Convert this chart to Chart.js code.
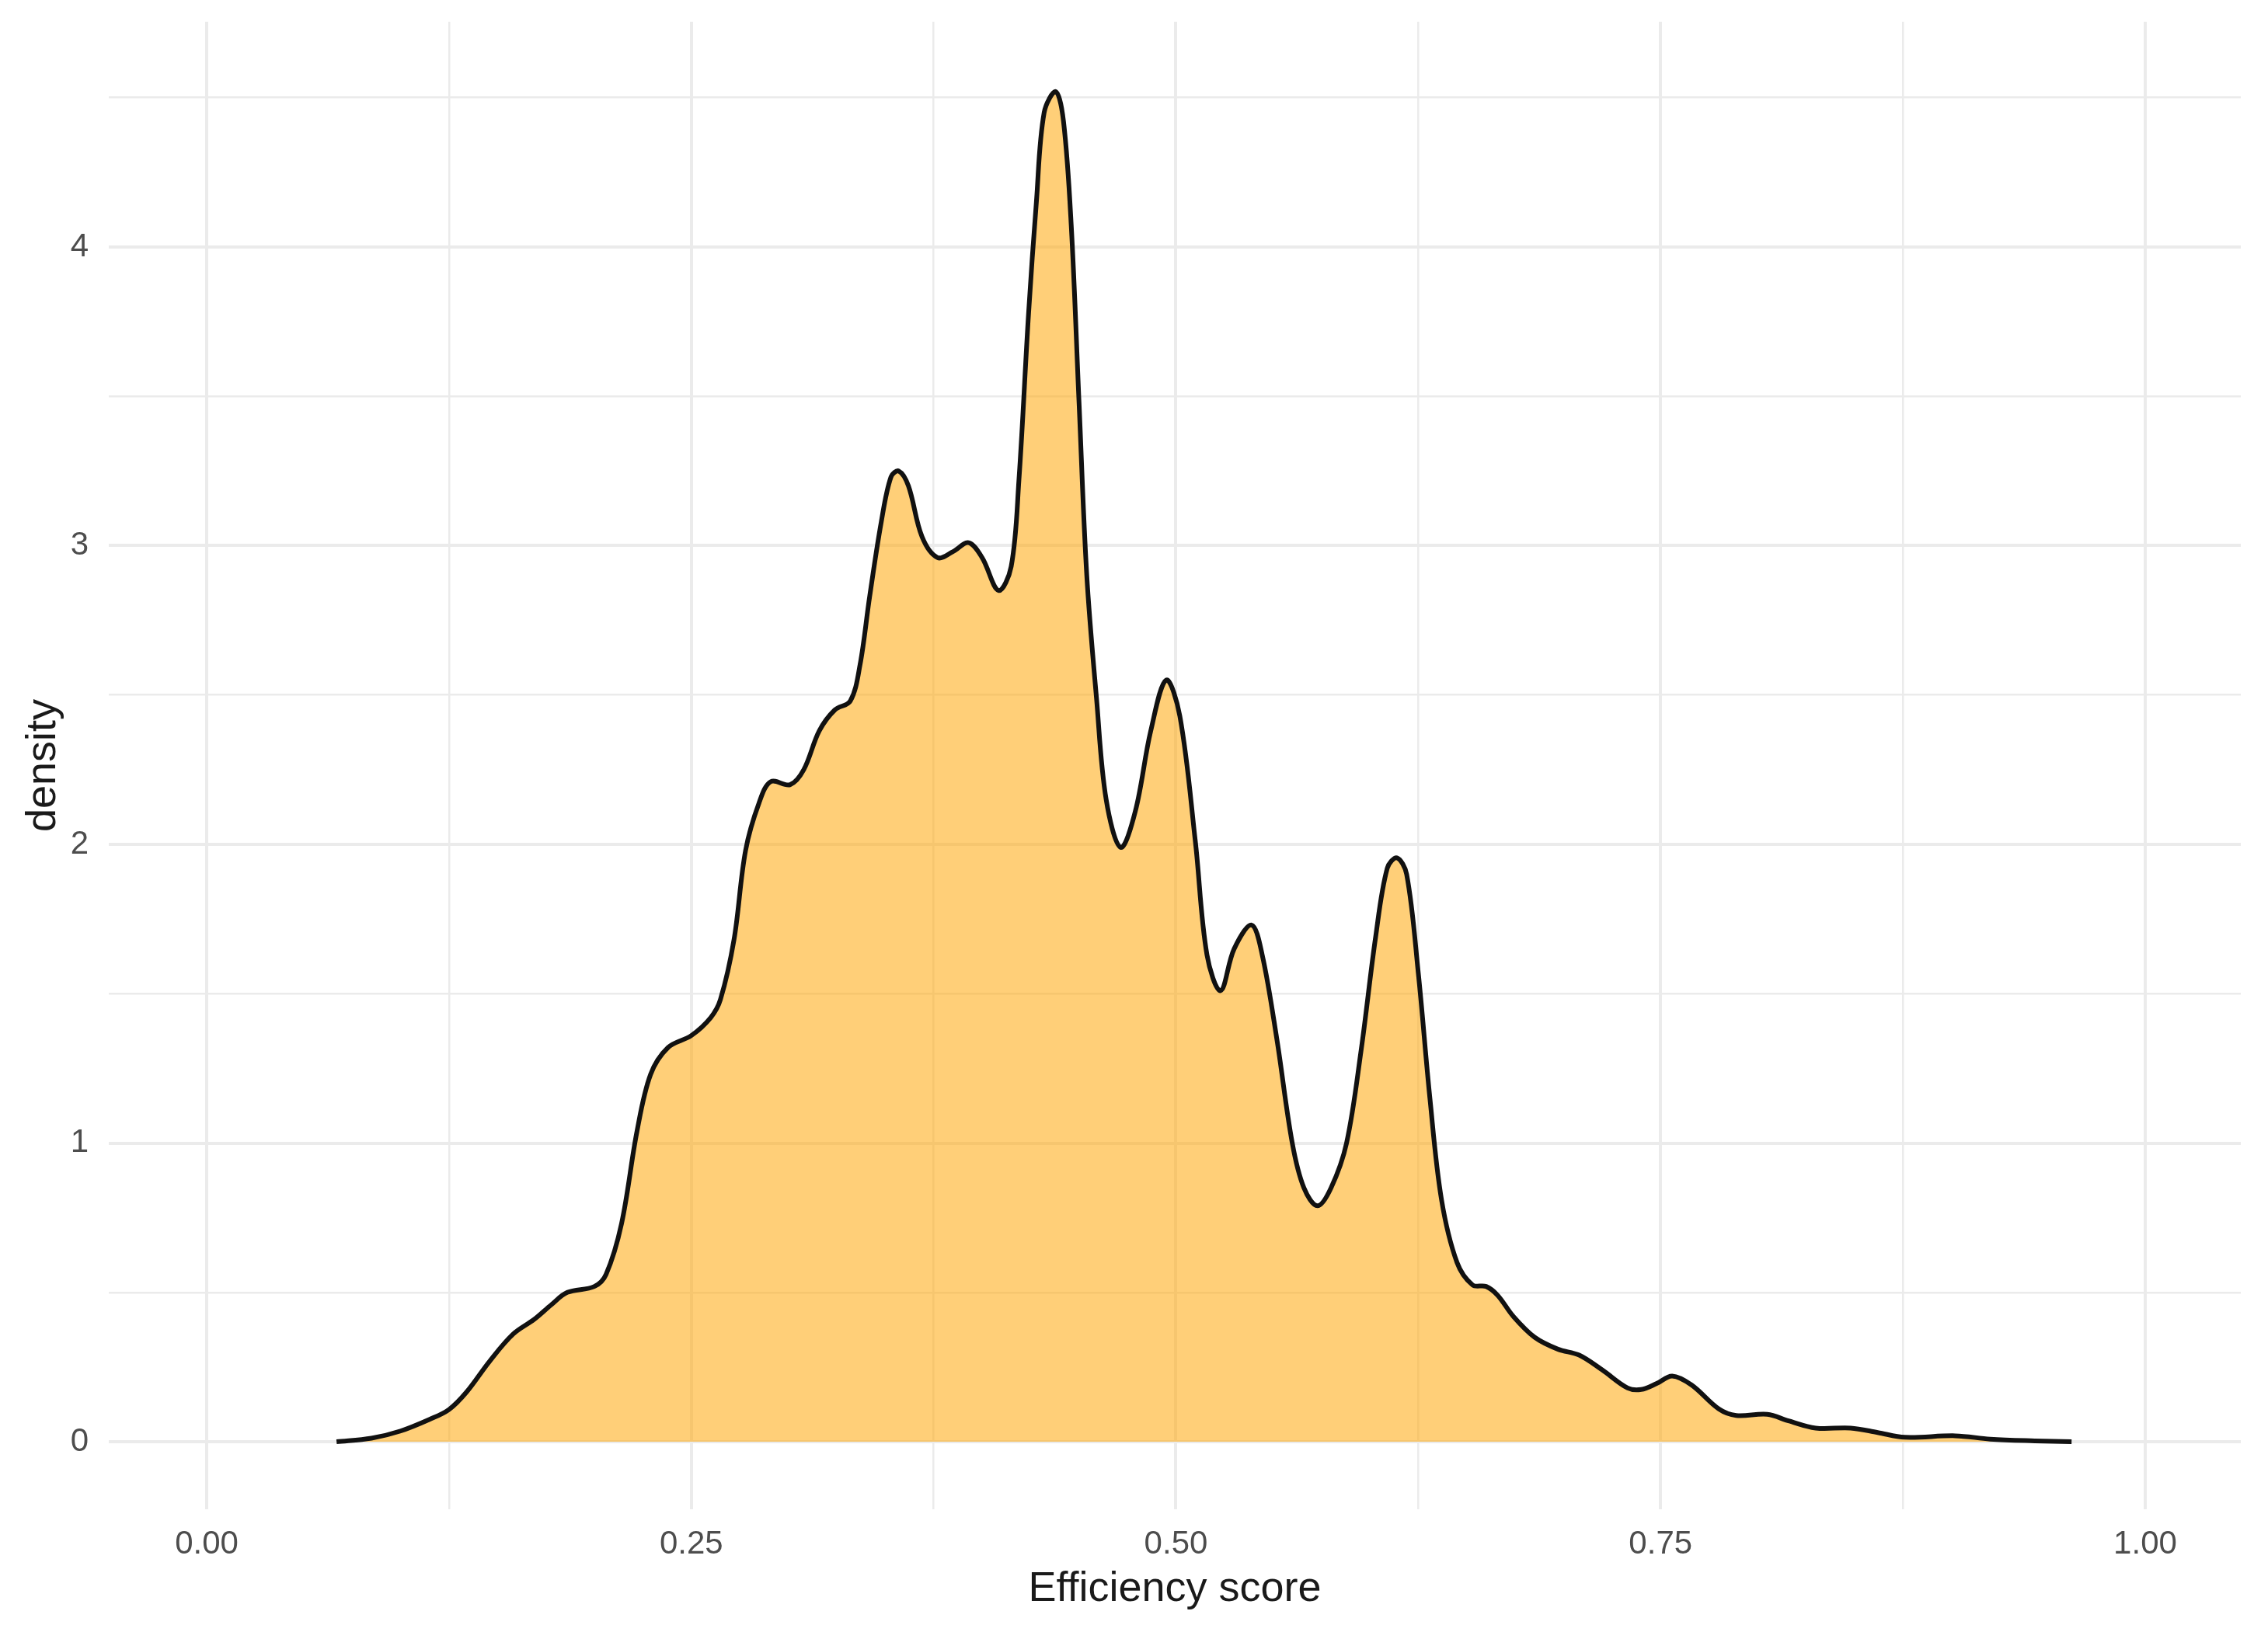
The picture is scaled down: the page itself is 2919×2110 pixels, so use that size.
<!DOCTYPE html>
<html>
<head>
<meta charset="utf-8">
<title>Efficiency score density</title>
<script src="https://cdn.jsdelivr.net/npm/chart.js@4"></script>
<style>
  html, body { margin: 0; padding: 0; background: #ffffff; }
  #wrap { width: 2919px; height: 2110px; position: relative; }
</style>
</head>
<body>
<div id="wrap"><canvas id="densityChart"></canvas></div>
<script>
// Efficiency score (x) and estimated kernel density (y)
const effScore = [
  0.067, 0.085, 0.100, 0.115, 0.125, 0.134, 0.146, 0.158, 0.169, 0.178,
  0.186, 0.200, 0.206, 0.214, 0.222, 0.229, 0.238, 0.250, 0.260, 0.265,
  0.272, 0.278, 0.285, 0.291, 0.301, 0.308, 0.316, 0.324, 0.332, 0.337,
  0.342, 0.348, 0.353, 0.357, 0.362, 0.369, 0.377, 0.385, 0.393, 0.400,
  0.4085, 0.415, 0.419, 0.424, 0.428, 0.432, 0.438, 0.442, 0.446, 0.450,
  0.454, 0.459, 0.464, 0.4715, 0.479, 0.487, 0.495, 0.502, 0.510, 0.516,
  0.523, 0.530, 0.539, 0.5445, 0.552, 0.560, 0.566, 0.573, 0.580, 0.588,
  0.5955, 0.603, 0.609, 0.614, 0.619, 0.625, 0.631, 0.637, 0.645, 0.653,
  0.660, 0.666, 0.674, 0.685, 0.697, 0.708, 0.720, 0.733, 0.740, 0.748,
  0.756, 0.766, 0.780, 0.789, 0.805, 0.816, 0.830, 0.848, 0.862, 0.876,
  0.902, 0.920, 0.943, 0.962
];
const density = [
  0.000, 0.012, 0.036, 0.075, 0.108, 0.166, 0.270, 0.360, 0.410, 0.460,
  0.500, 0.520, 0.560, 0.730, 1.040, 1.230, 1.320, 1.360, 1.420, 1.480,
  1.680, 1.980, 2.140, 2.210, 2.200, 2.250, 2.380, 2.450, 2.480, 2.600,
  2.830, 3.080, 3.230, 3.250, 3.200, 3.030, 2.960, 2.980, 3.010, 2.960,
  2.850, 2.930, 3.220, 3.780, 4.150, 4.450, 4.520, 4.420, 4.070, 3.480,
  2.900, 2.490, 2.150, 1.990, 2.110, 2.380, 2.550, 2.430, 2.010, 1.630,
  1.510, 1.650, 1.730, 1.630, 1.350, 1.000, 0.850, 0.790, 0.850, 1.000,
  1.310, 1.690, 1.920, 1.955, 1.900, 1.570, 1.150, 0.810, 0.600, 0.525,
  0.520, 0.490, 0.420, 0.350, 0.310, 0.290, 0.240, 0.180, 0.175, 0.195,
  0.220, 0.190, 0.110, 0.088, 0.092, 0.070, 0.046, 0.046, 0.031, 0.015,
  0.020, 0.009, 0.003, 0.000
];

// Axis ticks (major ones get labels, minor ones only grid lines)
const xMajorTicks = [0, 0.25, 0.5, 0.75, 1];
const xMinorTicks = [0.125, 0.375, 0.625, 0.875];
const yMajorTicks = [0, 1, 2, 3, 4];
const yMinorTicks = [0.5, 1.5, 2.5, 3.5, 4.5];

const FONT = "'Liberation Sans', Arial, Helvetica, sans-serif";
const GRID = '#EBEBEB';

const points = effScore.map((x, i) => ({ x: x, y: density[i] }));

function tickList(major, minor) {
  return major.concat(minor).sort((a, b) => a - b).map(v => ({ value: v }));
}

new Chart(document.getElementById('densityChart'), {
  type: 'line',
  data: {
    datasets: [{
      data: points,
      borderColor: '#111111',
      borderWidth: 6,
      backgroundColor: 'rgba(255, 165, 0, 0.53)',
      fill: 'origin',
      pointRadius: 0,
      tension: 0.35
    }]
  },
  options: {
    responsive: true,
    maintainAspectRatio: false,
    animation: false,
    devicePixelRatio: 1,
    layout: { padding: { top: 28, right: 35, left: 0, bottom: 0 } },
    plugins: {
      legend: { display: false },
      tooltip: { enabled: false }
    },
    scales: {
      x: {
        type: 'linear',
        min: -0.0505,
        max: 1.0493,
        afterBuildTicks: (scale) => { scale.ticks = tickList(xMajorTicks, xMinorTicks); },
        afterFit: (scale) => {
          scale.height = 167;
          scale.paddingLeft = 0;
          scale.paddingRight = 0;
        },
        border: { display: false },
        grid: {
          color: GRID,
          drawTicks: false,
          lineWidth: (ctx) => (ctx.tick && xMajorTicks.includes(ctx.tick.value)) ? 4 : 2.5
        },
        ticks: {
          autoSkip: false,
          maxRotation: 0,
          padding: 20,
          color: '#4D4D4D',
          font: { family: FONT, size: 42 },
          callback: (v) => xMajorTicks.includes(v) ? v.toFixed(2) : ''
        },
        title: {
          display: true,
          text: 'Efficiency score',
          color: '#1A1A1A',
          font: { family: FONT, size: 54 },
          padding: { top: 0, bottom: 31 }
        }
      },
      y: {
        type: 'linear',
        min: -0.226,
        max: 4.754,
        afterBuildTicks: (scale) => { scale.ticks = tickList(yMajorTicks, yMinorTicks); },
        afterFit: (scale) => {
          scale.width = 140;
          scale.paddingTop = 0;
          scale.paddingBottom = 0;
        },
        border: { display: false },
        grid: {
          color: GRID,
          drawTicks: false,
          lineWidth: (ctx) => (ctx.tick && yMajorTicks.includes(ctx.tick.value)) ? 4 : 2.5
        },
        ticks: {
          autoSkip: false,
          padding: 26,
          color: '#4D4D4D',
          font: { family: FONT, size: 42 },
          callback: (v) => yMajorTicks.includes(v) ? String(v) : ''
        },
        title: {
          display: true,
          text: 'density',
          color: '#1A1A1A',
          font: { family: FONT, size: 54 },
          padding: { top: 24, bottom: 0 }
        }
      }
    }
  }
});
</script>
</body>
</html>
